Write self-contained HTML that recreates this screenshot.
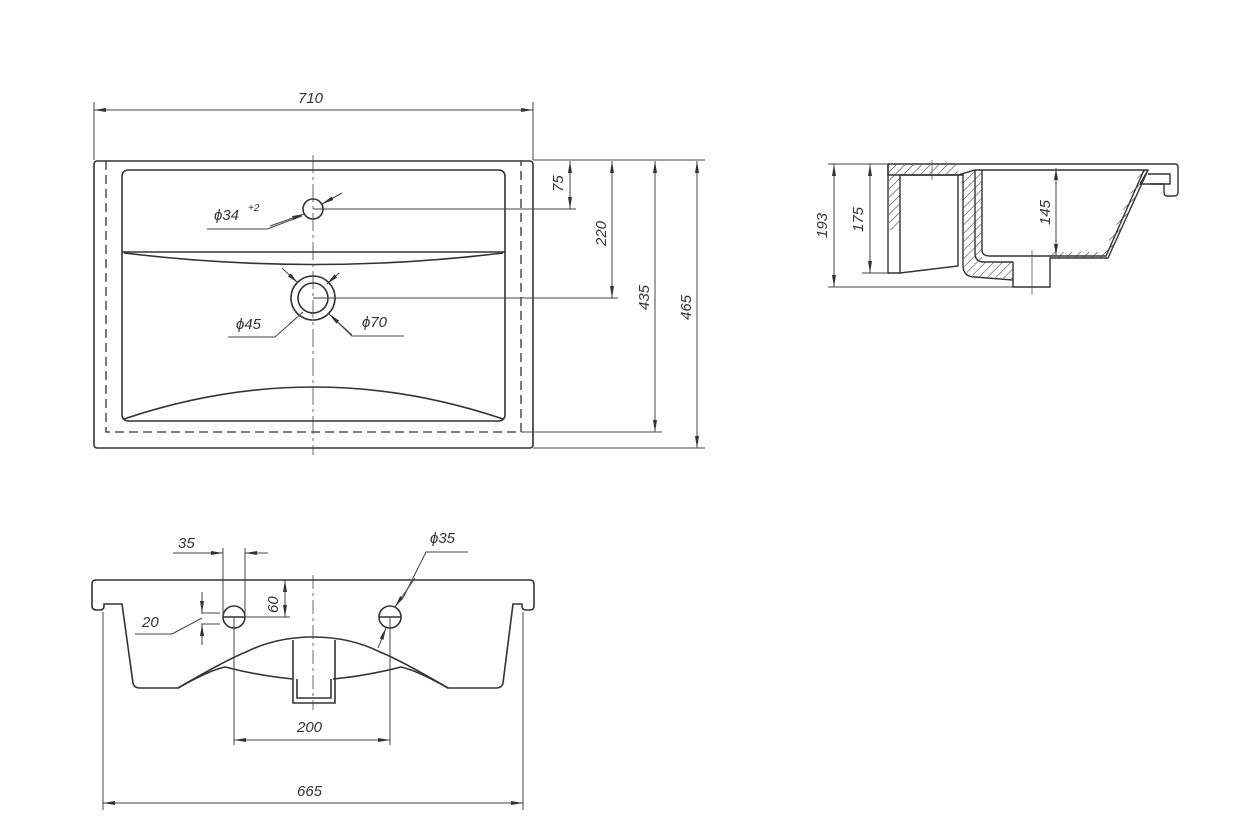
<!DOCTYPE html>
<html><head><style>
html,body{margin:0;padding:0;background:#fff;}
svg{display:block;}
text{font-family:"Liberation Sans",sans-serif;font-style:italic;font-size:15px;fill:#333;}
</style></head><body>
<svg width="1250" height="838" viewBox="0 0 1250 838" xmlns="http://www.w3.org/2000/svg">
<defs>
<marker id="a" viewBox="0 0 12 6" refX="12" refY="3" markerWidth="12" markerHeight="6" orient="auto-start-reverse" markerUnits="userSpaceOnUse"><path d="M0,1 L12,3 L0,5z" fill="#333"/></marker>
<pattern id="h" width="6" height="6" patternUnits="userSpaceOnUse" patternTransform="rotate(45)"><line x1="0" y1="0" x2="0" y2="6" stroke="#444" stroke-width="1.2"/></pattern>
</defs>
<g fill="none" stroke="#333" stroke-width="1.6">
<rect x="94" y="161" width="439" height="287" rx="3"/>
<path d="M106,161 V432 H521 V161" stroke-dasharray="9,5" stroke-width="1.3"/>
<rect x="122" y="170" width="383" height="251" rx="6"/>
<path d="M122,252 H505"/>
<path d="M124,253 Q314,276 503,253"/>
<path d="M124,419 Q314,355 503,419"/>
<circle cx="313" cy="209" r="10"/>
<circle cx="313" cy="298" r="22"/>
<circle cx="313" cy="298" r="15"/>
</g>
<g fill="none" stroke="#444" stroke-width="1">
<path d="M313,155 V455" stroke-dasharray="18,4,3,4" stroke-width="0.8"/>
<path d="M94,160 V102 M533,160 V102"/>
<line x1="94" y1="110" x2="533" y2="110" marker-start="url(#a)" marker-end="url(#a)"/>
<path d="M533,160 H705 M313,209 H576 M313,298 H618 M521,432 H662 M533,448 H705"/>
<line x1="570" y1="161" x2="570" y2="209" marker-start="url(#a)" marker-end="url(#a)"/>
<line x1="612" y1="161" x2="612" y2="298" marker-start="url(#a)" marker-end="url(#a)"/>
<line x1="655" y1="161" x2="655" y2="432" marker-start="url(#a)" marker-end="url(#a)"/>
<line x1="697" y1="161" x2="697" y2="448" marker-start="url(#a)" marker-end="url(#a)"/>
<path d="M207,229 H267 L302,216"/>
<line x1="270" y1="226" x2="304" y2="214" marker-end="url(#a)"/>
<line x1="342" y1="193" x2="322" y2="204" marker-end="url(#a)"/>
<line x1="282" y1="268" x2="298" y2="283" marker-end="url(#a)"/>
<line x1="339" y1="273" x2="327" y2="284" marker-end="url(#a)"/>
<path d="M228,337 H275 L303,312"/>
<path d="M404,336 H352 L328,313"/>
<line x1="352" y1="335" x2="329" y2="314" marker-end="url(#a)"/>
</g>
<text x="298" y="103">710</text>
<text x="214" y="220">ϕ34</text><text x="248" y="211" style="font-size:10px">+2</text>
<text x="236" y="329">ϕ45</text>
<text x="362" y="327">ϕ70</text>
<text transform="translate(563,192) rotate(-90)">75</text>
<text transform="translate(606,246) rotate(-90)">220</text>
<text transform="translate(649,310) rotate(-90)">435</text>
<text transform="translate(691,320) rotate(-90)">465</text>

<g fill="none" stroke="#333" stroke-width="1.4">
<path d="M888,164 H1175 Q1178,164 1178,167 V192 Q1178,196 1174,196 H1167 Q1164,196 1164,192 V184 H1140" />
<path d="M888,164 V273 H900 L958,266 V175 H900 V273"/>
<path d="M888,164 V175 H958 L975,170 H1148 L1108,258 H1050 V287 H1013 V280 L975,277 Q963,277 963,265 V175 L958,175"/>
<path d="M975,170 V253 Q975,262 984,262 H1013 V280"/>
<path d="M982,170 V250 Q982,256 990,256 H1106 L1144,170"/>
<path d="M1148,170 L1140,184 M1148,174 H1170 V184 H1150"/>
</g>
<g fill="url(#h)" stroke="none">
<path d="M889,165 H900 V230 H889z"/>
<path d="M900,165 H958 V174 H900z"/>
<path d="M963,172 H982 V256 Q982,262 990,262 H1013 V279 L976,276 Q964,275 964,264z"/>
<path d="M1050,257 H1108 L1148,170 L1142,168 L1104,252 H1050z"/>
</g>
<g fill="none" stroke="#444" stroke-width="1">
<path d="M888,164 H828 M888,273 H862 M1013,287 H828"/>
<line x1="834" y1="164" x2="834" y2="287" marker-start="url(#a)" marker-end="url(#a)"/>
<line x1="870" y1="164" x2="870" y2="273" marker-start="url(#a)" marker-end="url(#a)"/>
<line x1="1056" y1="168" x2="1056" y2="256" marker-start="url(#a)" marker-end="url(#a)"/>
<path d="M932,160 V180 M1032,250 V295" stroke-width="0.7"/>
</g>
<text transform="translate(827,238) rotate(-90)">193</text>
<text transform="translate(863,232) rotate(-90)">175</text>
<text transform="translate(1050,225) rotate(-90)">145</text>

<g fill="none" stroke="#333" stroke-width="1.6">
<path d="M96,580 H530 Q534,580 534,584 V606 Q534,610 530,610 H526 Q522,610 522,606 V604 H513 L503,683 Q502,688 496,688 H448 Q400,660 380,652 Q350,637 313,637 Q276,637 246,652 Q226,660 178,688 H140 Q134,688 133,683 L122,604 H104 V606 Q104,610 100,610 H97 Q92,610 92,606 V584 Q92,580 96,580Z"/>
<path d="M178,688 Q210,670 225,667 Q260,676 293,679 M333,679 Q366,676 401,667 Q416,670 448,688"/>
<path d="M293,640 V703 H335 V640 M297,679 V698 H331 V679"/>
<circle cx="234" cy="617" r="11"/>
<circle cx="390" cy="617" r="11"/>
<path d="M223,617 H245 M379,617 H401"/>
</g>
<g fill="none" stroke="#444" stroke-width="1">
<path d="M313,575 V710" stroke-dasharray="14,4,3,4" stroke-width="0.8"/>
<path d="M223,548 V617 M245,548 V617 M234,617 V745 M390,617 V745 M103,612 V810 M523,612 V810 M245,617 H290 M201,613 H220 M201,624 H220"/>
<line x1="190" y1="553" x2="223" y2="553" marker-end="url(#a)"/>
<line x1="268" y1="553" x2="245" y2="553" marker-end="url(#a)"/>
<line x1="173" y1="553" x2="190" y2="553"/>
<line x1="285" y1="580" x2="285" y2="617" marker-start="url(#a)" marker-end="url(#a)"/>
<line x1="202" y1="592" x2="202" y2="613" marker-end="url(#a)"/>
<line x1="202" y1="645" x2="202" y2="624" marker-end="url(#a)"/>
<path d="M135,634 H172 L202,618"/>
<path d="M468,552 H426 L403,598"/>
<line x1="415" y1="578" x2="395" y2="607" marker-end="url(#a)"/>
<line x1="378" y1="648" x2="386" y2="628" marker-end="url(#a)"/>
<line x1="234" y1="740" x2="390" y2="740" marker-start="url(#a)" marker-end="url(#a)"/>
<line x1="103" y1="803" x2="523" y2="803" marker-start="url(#a)" marker-end="url(#a)"/>
</g>
<text x="178" y="548">35</text>
<text transform="translate(278,613) rotate(-90)">60</text>
<text x="142" y="627">20</text>
<text x="430" y="543">ϕ35</text>
<text x="297" y="732">200</text>
<text x="297" y="796">665</text>
</svg>
</body></html>
